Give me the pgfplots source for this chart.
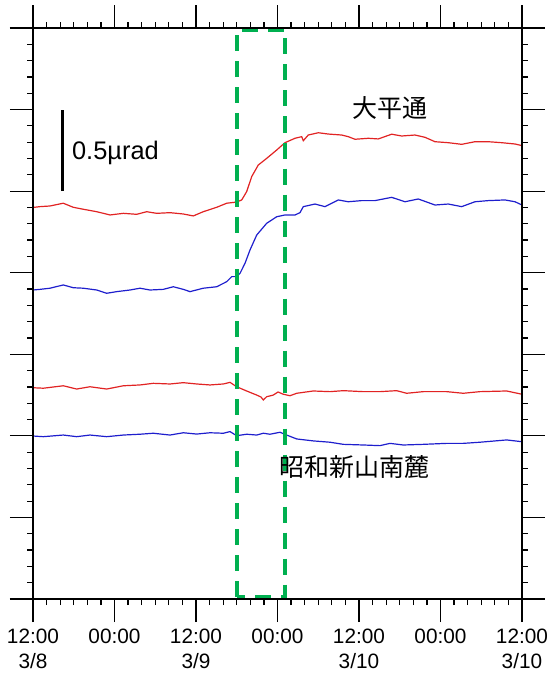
\documentclass[border=0pt]{standalone}
\usepackage{fontspec}
\setmainfont{Liberation Sans}
\newfontfamily\cjk{Noto Sans CJK JP}
\usepackage{pgfplots}
\pgfplotsset{compat=1.18}
\definecolor{tiltred}{RGB}{225,35,35}
\definecolor{tiltblue}{RGB}{30,30,205}
\definecolor{boxgreen}{RGB}{0,176,80}
\begin{document}
\begin{tikzpicture}
\begin{axis}[
  scale only axis, width=244.5pt, height=285.5pt,
  xmin=0, xmax=72, ymin=0, ymax=3.5,
  xtick={0,12,24,36,48,60,72}, minor x tick num=5,
  ytick={0,0.5,1,1.5,2,2.5,3,3.5}, minor y tick num=4,
  tick align=outside,
  major tick length=11.5pt, minor tick length=3pt,
  every tick/.style={black, line width=0.6pt},
  axis line style={line width=1.1pt},
  yticklabels={},
  xticklabels={{12:00\\3/8},{00:00},{12:00\\3/9},{00:00},{12:00\\3/10},{00:00},{12:00\\3/10}},
  xticklabel style={align=center, font=\fontsize{10.4}{12.6}\selectfont},
  clip=false,
]
% upper red (大平通)
\addplot[tiltred, line width=0.6pt] coordinates {
(0,2.40)(1.03,2.405)(2.50,2.409)(4.46,2.426)(5.93,2.401)(7.41,2.389)(9.38,2.374)(11.34,2.354)
(13.30,2.364)(15.27,2.358)(16.74,2.374)(18.21,2.364)(20.17,2.368)(22.13,2.360)(23.60,2.348)
(25.07,2.374)(27.05,2.401)(28.52,2.426)(29.99,2.433)(30.73,2.446)(31.46,2.497)(32.20,2.589)
(33.17,2.660)(34.41,2.701)(35.88,2.752)(37.10,2.797)(38.58,2.824)(39.56,2.834)(39.80,2.809)
(40.53,2.844)(42.01,2.858)(43.48,2.850)(45.45,2.844)(46.42,2.834)(47.41,2.818)(49.37,2.824)
(50.84,2.820)(52.81,2.849)(54.29,2.838)(56.24,2.844)(57.72,2.830)(59.19,2.803)(61.15,2.797)
(63.12,2.787)(65.08,2.803)(67.04,2.803)(69.01,2.797)(70.97,2.789)(72,2.779)};
% upper blue (大平通)
\addplot[tiltblue, line width=0.6pt] coordinates {
(0,1.894)(1.03,1.898)(2.50,1.905)(4.46,1.925)(5.93,1.908)(7.41,1.905)(9.38,1.894)(10.85,1.874)
(12.32,1.884)(14.28,1.894)(15.75,1.905)(17.23,1.894)(19.19,1.898)(20.66,1.914)(22.13,1.898)
(23.12,1.884)(25.07,1.905)(27.05,1.914)(28.52,1.945)(29.26,1.976)(29.99,1.976)(30.48,1.996)
(31.22,2.058)(31.95,2.139)(32.94,2.231)(34.41,2.303)(35.88,2.343)(37.10,2.354)(38.58,2.354)
(39.31,2.368)(39.80,2.405)(41.52,2.421)(42.99,2.405)(44.95,2.446)(46.42,2.435)(48.40,2.442)
(50.36,2.442)(52.81,2.462)(54.77,2.435)(56.73,2.452)(59.19,2.415)(61.15,2.421)(63.12,2.405)
(65.08,2.435)(67.04,2.442)(69.50,2.446)(70.97,2.435)(72,2.415)};
% lower red (昭和新山南麓)
\addplot[tiltred, line width=0.6pt] coordinates {
(0,1.295)(1.52,1.292)(4.46,1.307)(6.43,1.287)(8.39,1.301)(10.85,1.287)(13.30,1.307)(15.75,1.312)
(17.71,1.322)(20.17,1.318)(22.13,1.326)(24.10,1.318)(26.06,1.312)(28.02,1.318)(29.01,1.328)
(29.99,1.301)(31.46,1.275)(32.94,1.250)(33.57,1.238)(33.91,1.220)(34.41,1.240)(35.38,1.250)
(36.08,1.269)(36.85,1.255)(37.84,1.246)(38.83,1.261)(41.27,1.275)(43.73,1.271)(45.69,1.277)
(48.63,1.271)(51.09,1.271)(53.55,1.277)(55.02,1.261)(57.47,1.271)(60.91,1.271)(63.36,1.261)
(65.81,1.271)(69.75,1.275)(72,1.255)};
% lower blue (昭和新山南麓)
\addplot[tiltblue, line width=0.6pt] coordinates {
(0,0.999)(1.52,0.995)(4.46,1.005)(6.43,0.995)(8.39,1.005)(10.85,0.995)(13.30,1.005)(15.75,1.010)
(17.71,1.016)(20.17,1.005)(22.13,1.019)(24.10,1.011)(26.06,1.019)(28.02,1.016)(29.01,1.026)
(29.99,1.001)(31.46,1.010)(32.94,1.005)(33.91,1.016)(34.90,1.010)(36.37,1.022)(37.35,1.005)
(38.83,0.981)(41.27,0.969)(43.73,0.961)(45.69,0.948)(48.63,0.944)(51.09,0.940)(52.56,0.954)
(54.52,0.944)(57.47,0.948)(60.91,0.954)(63.36,0.954)(65.81,0.961)(69.75,0.975)(72,0.964)};
% green dashed window
\addplot[boxgreen, line width=2pt, dash pattern=on 8pt off 5pt] coordinates {
(30,0.015)(30,3.49)(37.1,3.49)(37.1,0.015)(30,0.015)};
% scale bar 0.5 urad
\addplot[black, line width=1.4pt] coordinates {(4.3,2.5)(4.3,3.0)};
\node[anchor=west, inner sep=0pt, font=\fontsize{12.7}{14}\selectfont] at (axis cs:5.7,2.735) {0.5µrad};
\node[inner sep=0pt, font=\cjk\fontsize{12.5}{14}\selectfont] at (axis cs:52.5,3.01) {大平通};
\node[inner sep=0pt, font=\cjk\fontsize{12.5}{14}\selectfont] at (axis cs:47.4,0.81) {昭和新山南麓};
\end{axis}
% frame line extensions
\draw[line width=0.6pt] ([xshift=-11.5pt]current axis.north west) -- ([xshift=11.5pt]current axis.north east);
\draw[line width=0.6pt] ([xshift=-11.5pt]current axis.south west) -- ([xshift=11.5pt]current axis.south east);
\draw[line width=0.6pt] ([yshift=11.5pt]current axis.north west) -- ([yshift=-11.5pt]current axis.south west);
\draw[line width=0.6pt] ([yshift=11.5pt]current axis.north east) -- ([yshift=-11.5pt]current axis.south east);
\pgfresetboundingbox
\path ([xshift=-16.5pt,yshift=-38pt]current axis.south west) rectangle ([xshift=13pt,yshift=14pt]current axis.north east);
\end{tikzpicture}
\end{document}
